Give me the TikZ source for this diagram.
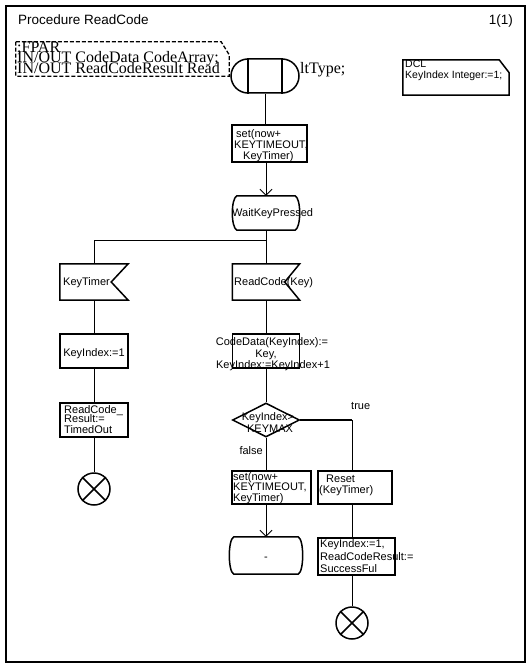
\documentclass[tikz,border=0pt]{standalone}
\usepackage{fontspec}
\setmainfont{Liberation Sans}
\newfontfamily\serifx{Liberation Serif}
\usetikzlibrary{arrows.meta,shapes.geometric,shapes.misc}
\begin{document}
\begin{tikzpicture}[x=1pt,y=-1pt,
  sym/.style={draw,line width=1.5pt,fill=white},
  conn/.style={line width=0.9pt},
  arr/.style={conn,-{Straight Barb[length=6pt,width=12pt]}},
  box/.style={sym,rectangle,inner sep=0pt},
  holder/.style={rectangle,inner sep=0pt},
  txt/.style={inner sep=0pt,font=\fontsize{11}{11}\selectfont,anchor=base west},
  txtc/.style={txt,anchor=base},
  small/.style={inner sep=0pt,font=\fontsize{10.5}{10.5}\selectfont,anchor=base west},
  head/.style={inner sep=0pt,font=\fontsize{13.5}{13.5}\selectfont,anchor=base west},
  fpartxt/.style={inner sep=0pt,font=\serifx\fontsize{16}{16}\selectfont,anchor=base west},
  stopsym/.style={sym,circle,inner sep=0pt,minimum size=32pt}]
\useasboundingbox (0,0) rectangle (532,666);
% frame
\draw[line width=2pt] (6,6) rectangle (525,662);
\node[head] (title) at (18,25) {Procedure ReadCode};
\node[head,anchor=base east] (page) at (513,25) {1(1)};

% FPAR text symbol
\node[holder,minimum width=213pt,minimum height=34pt] (fpar) at (122.5,59) {};
\draw[line width=1.3pt,dash pattern=on 4pt off 2pt]
  (fpar.north west) -- ([xshift=-8pt]fpar.north east) -- ([yshift=-13pt]fpar.north east)
  -- (fpar.south east) -- (fpar.south west) -- cycle;
\node[fpartxt] (fpar1) at (17,52.5) {;FPAR};
\node[fpartxt] (fpar2) at (17,63) {IN/OUT CodeData CodeArray;};
\node[fpartxt] (fpar3) at (17,73.5) {IN/OUT ReadCodeResult Read};
\node[fpartxt] (fpar4) at (300,73.5) {ltType;};

% DCL text symbol
\node[holder,minimum width=106pt,minimum height=35pt] (dcl) at (456,77.5) {};
\draw[line width=1.5pt]
  (dcl.north west) -- ([xshift=-10pt]dcl.north east) -- ([yshift=-13pt]dcl.north east)
  -- (dcl.south east) -- (dcl.south west) -- cycle;
\node[small] (dcl1) at (405,67.5) {DCL};
\node[small] (dcl2) at (405,78.5) {KeyIndex Integer:=1;};

% procedure start
\node[sym,rounded rectangle,inner sep=0pt,minimum width=68pt,minimum height=34pt] (start) at (265,76) {};
\draw[sym] ([xshift=-17pt]start.north) -- ([xshift=-17pt]start.south);
\draw[sym] ([xshift=17pt]start.north) -- ([xshift=17pt]start.south);

% task 1
\node[box,minimum width=75pt,minimum height=37pt] (task1) at (269.5,143.5) {};
\draw[conn] (start.south) -- (start.south |- task1.north);

% state WaitKeyPressed
\node[holder,minimum width=66pt,minimum height=34pt] (wait) at (266,213) {};
\draw[sym] ([xshift=4pt]wait.north west) -- ([xshift=-4pt]wait.north east)
  .. controls ([xshift=2pt,yshift=-3pt]wait.north east) and ([xshift=2pt,yshift=3pt]wait.south east) .. ([xshift=-4pt]wait.south east)
  -- ([xshift=4pt]wait.south west)
  .. controls ([xshift=-2pt,yshift=3pt]wait.south west) and ([xshift=-2pt,yshift=-3pt]wait.north west) .. ([xshift=4pt]wait.north west) -- cycle;
\draw[arr] (wait.north |- task1.south) -- (wait.north);

% inputs
\node[holder,minimum width=68pt,minimum height=36pt] (kt) at (94,282) {};
\draw[sym] (kt.north west) -- (kt.north east) -- ([xshift=-17pt]kt.east) -- (kt.south east) -- (kt.south west) -- cycle;
\node[holder,minimum width=67pt,minimum height=36pt] (rcin) at (266,282) {};
\draw[sym] (rcin.north west) -- (rcin.north east) -- ([xshift=-15pt]rcin.east) -- (rcin.south east) -- (rcin.south west) -- cycle;
\coordinate (br) at (266,240);
\draw[conn] (wait.south) -- (rcin.north);
\draw[conn] (br) -| (kt.north);

% left column
\node[box,minimum width=68pt,minimum height=34pt] (ki1) at (94,351) {};
\node[box,minimum width=68pt,minimum height=34pt] (rcto) at (94,420) {};
\node[stopsym] (stop1) at (94,489) {};
\draw[sym] (stop1.north west) -- (stop1.south east) (stop1.north east) -- (stop1.south west);
\draw[conn] (kt.south) -- (ki1.north);
\draw[conn] (ki1.south) -- (rcto.north);
\draw[conn] (rcto.south) -- (stop1.north);

% main column
\node[box,minimum width=67pt,minimum height=34pt] (cd) at (266,351) {};
\node[sym,diamond,inner sep=0pt,minimum width=67pt,minimum height=34pt,aspect=2] (dec) at (266,420) {};
\draw[conn] (rcin.south) -- (cd.north);
\draw[conn] (cd.south) -- (dec.north);
\coordinate (tc) at (352,420);
\draw[line width=1.5pt] (dec.east) -- (tc);

\node[box,minimum width=79pt,minimum height=33pt] (set2) at (271.5,487.5) {};
\node[box,minimum width=74pt,minimum height=33pt] (reset) at (355,487.5) {};
\draw[conn] (dec.south) -- (dec.south |- set2.north);
\draw[conn] (tc) -- (tc |- reset.north);

\node[holder,minimum width=72pt,minimum height=37pt] (st2) at (266,555.5) {};
\draw[sym] ([xshift=4pt]st2.north west) -- ([xshift=-4pt]st2.north east)
  .. controls ([xshift=2pt,yshift=-3pt]st2.north east) and ([xshift=2pt,yshift=3pt]st2.south east) .. ([xshift=-4pt]st2.south east)
  -- ([xshift=4pt]st2.south west)
  .. controls ([xshift=-2pt,yshift=3pt]st2.south west) and ([xshift=-2pt,yshift=-3pt]st2.north west) .. ([xshift=4pt]st2.north west) -- cycle;
\draw[arr] (st2.north |- set2.south) -- (st2.north);

\node[box,minimum width=77pt,minimum height=37pt] (kidx2) at (356.5,556.5) {};
\node[stopsym] (stop2) at (352,623) {};
\draw[sym] (stop2.north west) -- (stop2.south east) (stop2.north east) -- (stop2.south west);
\draw[conn] (tc |- reset.south) -- (tc |- kidx2.north);
\draw[conn] (tc |- kidx2.south) -- (stop2.north);

% texts
\node[txt] (t1a) at (236,137) {set(now+};
\node[txt] (t1b) at (234,148) {KEYTIMEOUT,};
\node[txt] (t1c) at (243,159) {KeyTimer)};
\node[txt] (waittxt) at (232,216) {WaitKeyPressed};
\node[txt] (kttxt) at (63,285) {KeyTimer};
\node[txt] (rctxt) at (234,285) {ReadCode(Key)};
\node[txtc] (ki1txt) at (94,356) {KeyIndex:=1};
\node[txt] (rcto1) at (64,413) {ReadCode\_};
\node[txt] (rcto2) at (64,422.5) {Result:=};
\node[txt] (rcto3) at (64,433) {TimedOut};
\node[txtc] (cd1) at (272,345) {CodeData(KeyIndex):=};
\node[txtc] (cd2) at (266,357) {Key,};
\node[txtc] (cd3) at (273,368) {KeyIndex:=KeyIndex+1};
\node[txtc] (dec1) at (268,420) {KeyIndex>};
\node[txtc] (dec2) at (270,432) {KEYMAX};
\node[txt] (truetxt) at (351,409) {true};
\node[txt,anchor=base east] (falsetxt) at (263,454) {false};
\node[txt] (s2a) at (233,480) {set(now+};
\node[txt] (s2b) at (233,490.5) {KEYTIMEOUT,};
\node[txt] (s2c) at (233,501) {KeyTimer)};
\node[txt] (rs1) at (326,482) {Reset};
\node[txt] (rs2) at (319,493) {(KeyTimer)};
\node[txtc] (dash) at (266,560) {-};
\node[txt] (k2a) at (320,547) {KeyIndex:=1,};
\node[txt] (k2b) at (320,560) {ReadCodeResult:=};
\node[txt] (k2c) at (320,572) {SuccessFul};
\end{tikzpicture}
\end{document}
